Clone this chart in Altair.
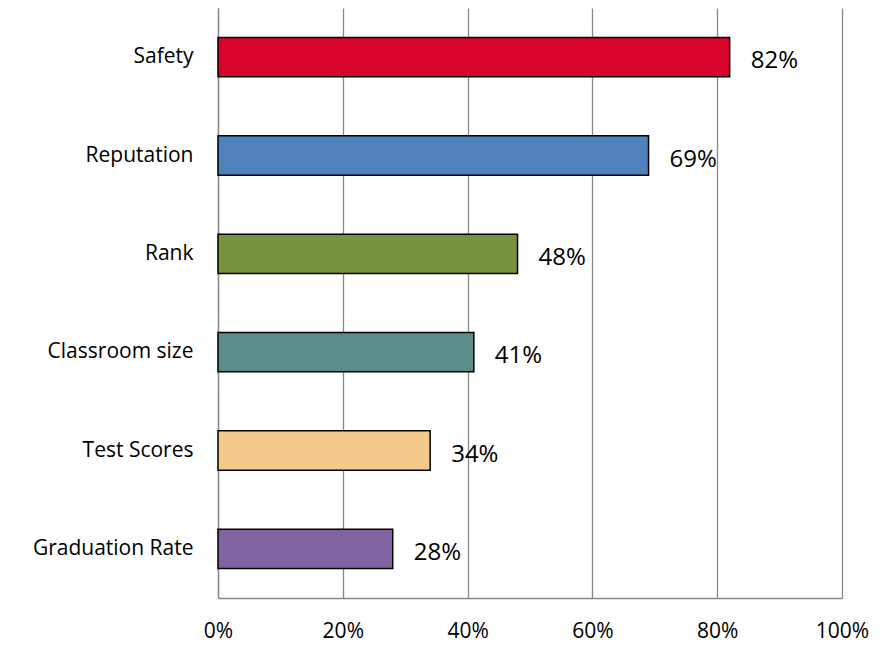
import altair as alt
import pandas as pd

categories = ["Safety", "Reputation", "Rank", "Classroom size", "Test Scores", "Graduation Rate"]
values = [0.82, 0.69, 0.48, 0.41, 0.34, 0.28]
colors = ["#D9042B", "#4F81BD", "#77933C", "#5B8C8A", "#F4CA8A", "#8064A2"]
tick_values = [0, 0.2, 0.4, 0.6, 0.8, 1.0]

df = pd.DataFrame({"category": categories, "value": values, "color": colors})
df["label"] = [f"{round(v*100)}%" for v in values]

FONT = "Open Sans"

y_enc = alt.Y("category:N", sort=categories, title=None,
              scale=alt.Scale(paddingInner=0.6, paddingOuter=0.3),
              axis=alt.Axis(ticks=False, domainColor="#888888", domainWidth=1.3,
                            labelPadding=25, labelFontSize=21, labelFont=FONT,
                            labelColor="#000000", grid=False, labelLimit=300))
x_enc = alt.X("value:Q", title=None,
              scale=alt.Scale(domain=[0, 1]),
              axis=alt.Axis(values=tick_values, format=".0%", ticks=False,
                            domainColor="#888888", domainWidth=1.3,
                            gridColor="#888888", gridWidth=1.3,
                            labelPadding=22, labelFontSize=21, labelFont=FONT,
                            labelColor="#000000", labelFlush=False))

bars = alt.Chart(df).mark_bar(stroke="#000000", strokeWidth=1.5).encode(
    y=y_enc, x=x_enc,
    color=alt.Color("color:N", scale=None),
)
text = alt.Chart(df).mark_text(align="left", baseline="middle", dx=21, dy=4,
                               fontSize=24, font=FONT, color="#000000").encode(
    y=alt.Y("category:N", sort=categories),
    x="value:Q",
    text="label:N",
)

chart = (bars + text).properties(
    width=624, height=590,
    autosize=alt.AutoSizeParams(type="none"),
    padding={"left": 210, "top": 0, "right": 36, "bottom": 44},
).configure_view(stroke=None)

chart.save("out.html", embed_options={"renderer": "svg", "actions": False})
